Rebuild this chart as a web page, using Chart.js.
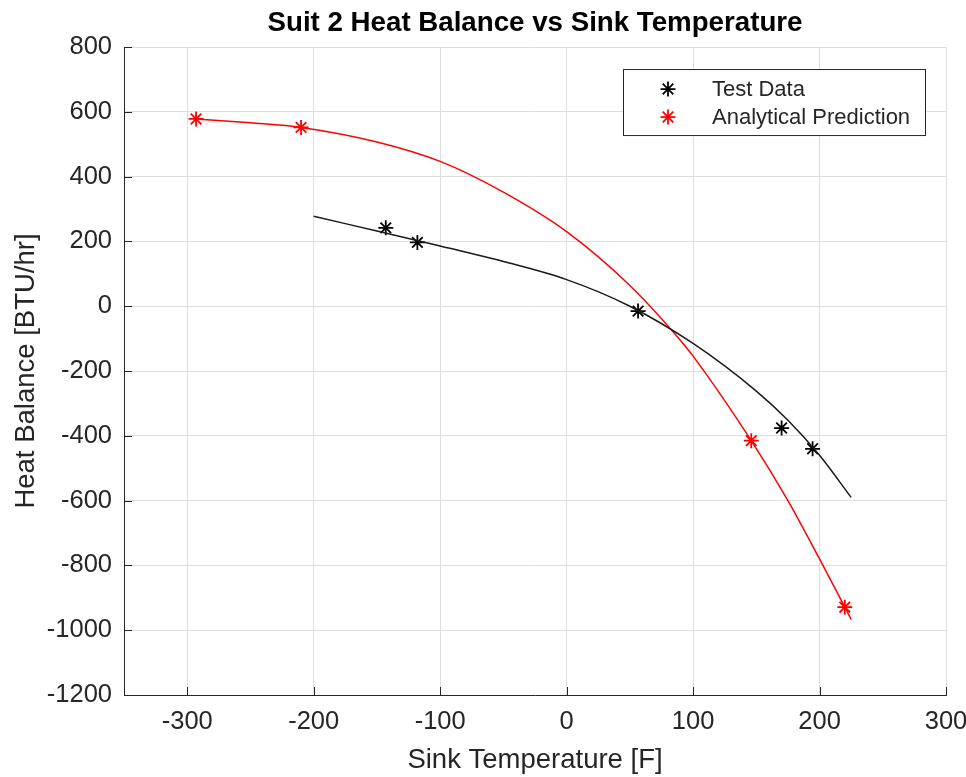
<!DOCTYPE html>
<html>
<head>
<meta charset="utf-8">
<title>Suit 2 Heat Balance vs Sink Temperature</title>
<script src="https://cdn.jsdelivr.net/npm/chart.js@4.4.1/dist/chart.umd.min.js"></script>
<style>
  html, body { margin: 0; padding: 0; background: #fff; }
</style>
</head>
<body>
<canvas id="myChart" width="966" height="777"></canvas>
<script>
// measured points
const testTemp = [-143, -118, 56.5, 170, 194.5];
const testHeat = [242, 197, -15, -376, -440];
const predTemp = [-293, -210, 146, 220];
const predHeat = [578, 552, -415, -929];

// fitted curves
const testFitTemp = [-200, -150, -100, -50, 0, 50, 100, 150, 175, 200, 225];
const testFitHeat = [278, 232, 186, 138, 82, 0, -115, -262, -352, -460, -590];
const predFitTemp = [-293, -250, -210, -150, -100, -50, 0, 50, 86, 100, 146, 175, 200, 220, 225];
const predFitHeat = [578, 566, 552, 507, 447, 352, 230, 64, -87, -154, -415, -600, -780, -929, -967];

const xTicks = [-300, -200, -100, 0, 100, 200, 300];
const yTicks = [-1200, -1000, -800, -600, -400, -200, 0, 200, 400, 600, 800];

const FONT = "'Liberation Sans', Arial, Helvetica, sans-serif";
const AXIS_COLOR = '#262626';
const GRID_COLOR = '#dedede';

function pts(xs, ys) {
  return xs.map((x, i) => ({ x: x, y: ys[i] }));
}

// legend drawn inside the plot box, top right
const insideLegend = {
  id: 'insideLegend',
  afterDraw(chart) {
    const { ctx, chartArea } = chart;
    const w = 302, h = 66;
    const left = chartArea.right - 21 - w;
    const top = chartArea.top + 22;
    ctx.save();
    ctx.fillStyle = '#fff';
    ctx.fillRect(left, top, w, h);
    ctx.strokeStyle = AXIS_COLOR;
    ctx.lineWidth = 1;
    ctx.strokeRect(left + 0.5, top + 0.5, w, h);

    const items = chart.data.datasets.filter(d => d.inLegend);
    items.forEach((d, i) => {
      const y = top + 20 + i * 28;
      ctx.strokeStyle = d.borderColor;
      ctx.fillStyle = d.borderColor;
      ctx.lineWidth = 1.8;
      Chart.helpers.drawPoint(ctx, { pointStyle: 'star', radius: 7.5, borderWidth: 1.8, rotation: 0 }, left + 45, y);
      ctx.fillStyle = AXIS_COLOR;
      ctx.font = '22px ' + FONT;
      ctx.textBaseline = 'middle';
      ctx.textAlign = 'left';
      ctx.fillText(d.label, left + 89, y + 1);
    });
    ctx.restore();
  }
};

// ticks pointing into the plot
const innerTicks = {
  id: 'innerTicks',
  afterDatasetsDraw(chart) {
    const { ctx, chartArea, scales } = chart;
    ctx.save();
    ctx.strokeStyle = AXIS_COLOR;
    ctx.lineWidth = 1;
    ctx.beginPath();
    xTicks.forEach(v => {
      const px = Math.round(scales.x.getPixelForValue(v)) + 0.5;
      ctx.moveTo(px, chartArea.bottom);
      ctx.lineTo(px, chartArea.bottom - 8);
    });
    yTicks.forEach(v => {
      const py = Math.round(scales.y.getPixelForValue(v)) + 0.5;
      ctx.moveTo(chartArea.left, py);
      ctx.lineTo(chartArea.left + 8, py);
    });
    ctx.stroke();
    ctx.restore();
  }
};

const plainLabel = v => String(v);

const ctx = document.getElementById('myChart').getContext('2d');
const myChart = new Chart(ctx, {
  type: 'scatter',
  data: {
    datasets: [
      {
        label: 'Test Data fit',
        data: pts(testFitTemp, testFitHeat),
        showLine: true,
        borderColor: '#1a1a1a',
        borderWidth: 1.5,
        pointRadius: 0,
        cubicInterpolationMode: 'monotone'
      },
      {
        label: 'Analytical Prediction fit',
        data: pts(predFitTemp, predFitHeat),
        showLine: true,
        borderColor: '#ff0000',
        borderWidth: 1.5,
        pointRadius: 0,
        cubicInterpolationMode: 'monotone'
      },
      {
        label: 'Test Data',
        inLegend: true,
        data: pts(testTemp, testHeat),
        showLine: false,
        borderColor: '#000000',
        backgroundColor: '#000000',
        pointStyle: 'star',
        pointRadius: 7.5,
        borderWidth: 1.8
      },
      {
        label: 'Analytical Prediction',
        inLegend: true,
        data: pts(predTemp, predHeat),
        showLine: false,
        borderColor: '#ff0000',
        backgroundColor: '#ff0000',
        pointStyle: 'star',
        pointRadius: 7.5,
        borderWidth: 1.8
      }
    ]
  },
  options: {
    responsive: false,
    animation: false,
    layout: { padding: { left: 0, right: 20, top: 0, bottom: 0 } },
    plugins: {
      legend: { display: false },
      tooltip: { enabled: false },
      title: {
        display: true,
        fullSize: false,
        text: 'Suit 2 Heat Balance vs Sink Temperature',
        color: '#000',
        font: { family: FONT, size: 27.7, weight: 'bold' },
        padding: { top: 7, bottom: 6.8 }
      }
    },
    scales: {
      x: {
        type: 'linear',
        min: -350,
        max: 300,
        afterFit(scale) {
          scale.height = 82;
          scale.paddingLeft = 0;
          scale.paddingRight = 0;
        },
        afterBuildTicks(scale) { scale.ticks = xTicks.map(v => ({ value: v })); },
        ticks: {
          color: AXIS_COLOR,
          font: { family: FONT, size: 25.5 },
          padding: 12,
          maxRotation: 0,
          autoSkip: false,
          callback: plainLabel
        },
        grid: { color: GRID_COLOR, drawTicks: false },
        border: { color: AXIS_COLOR, width: 1 },
        title: {
          display: true,
          text: 'Sink Temperature [F]',
          color: AXIS_COLOR,
          font: { family: FONT, size: 27.5 },
          padding: { top: 0, bottom: 0 }
        }
      },
      y: {
        type: 'linear',
        min: -1200,
        max: 800,
        afterFit(scale) {
          scale.width = 124;
          scale.paddingTop = 0;
          scale.paddingBottom = 0;
        },
        afterBuildTicks(scale) { scale.ticks = yTicks.map(v => ({ value: v })); },
        ticks: {
          color: AXIS_COLOR,
          font: { family: FONT, size: 25.5 },
          padding: 12,
          autoSkip: false,
          callback: plainLabel
        },
        grid: { color: GRID_COLOR, drawTicks: false },
        border: { color: AXIS_COLOR, width: 1 },
        title: {
          display: true,
          text: 'Heat Balance [BTU/hr]',
          color: AXIS_COLOR,
          font: { family: FONT, size: 27.5 },
          padding: { top: 10, bottom: 0 }
        }
      }
    }
  },
  plugins: [innerTicks, insideLegend]
});
</script>
</body>
</html>
